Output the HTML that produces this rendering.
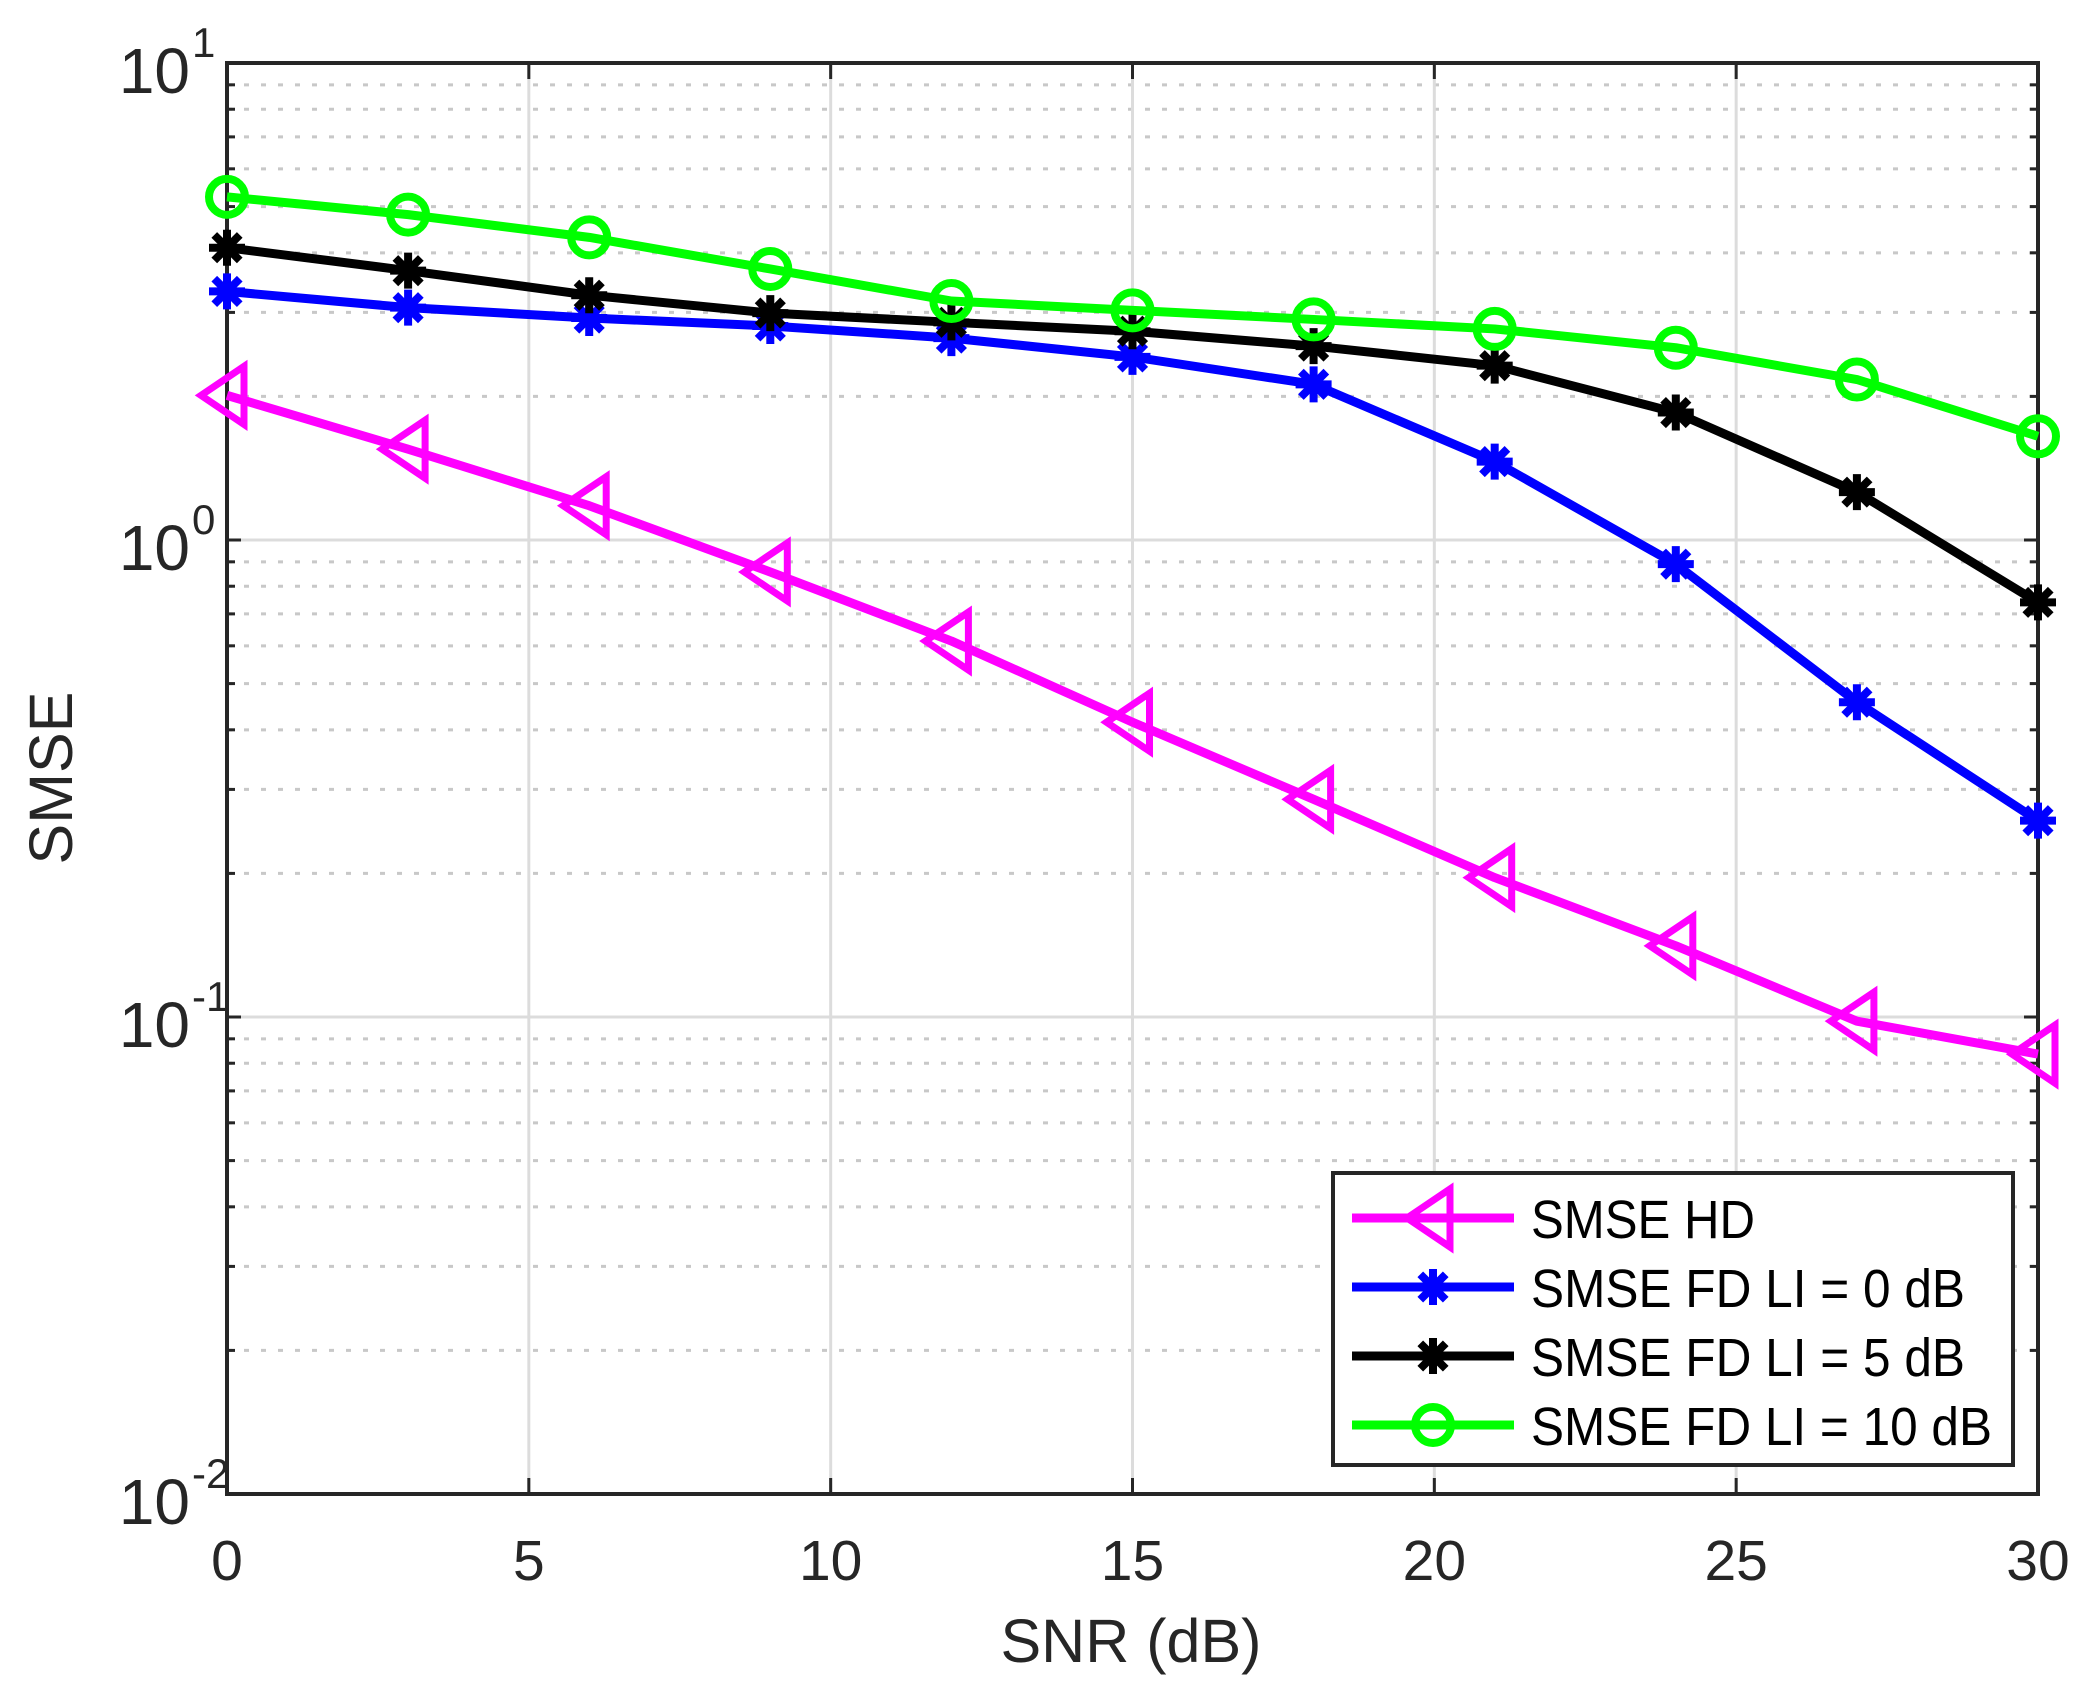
<!DOCTYPE html>
<html><head><meta charset="utf-8"><style>
html,body{margin:0;padding:0;background:#fff;}
svg{display:block;font-family:"Liberation Sans",Arial,sans-serif;}
</style></head><body>
<svg id="chart" width="2082" height="1683" viewBox="0 0 2082 1683" xmlns="http://www.w3.org/2000/svg">
<rect x="0" y="0" width="2082" height="1683" fill="#fff"/>
<g id="grid"></g>
<g id="axes"></g>
<g id="series"></g>
<g id="legend"></g>
</svg>
<script>
const snr = [0,3,6,9,12,15,18,21,24,27,30];
const smseHD = [2.01,1.55,1.18,0.857,0.614,0.415,0.286,0.196,0.141,0.098,0.0836];
const smseFD0 = [3.32,3.07,2.92,2.81,2.65,2.42,2.12,1.46,0.89,0.457,0.258];
const smseFD5 = [4.1,3.67,3.26,2.99,2.86,2.74,2.55,2.32,1.85,1.26,0.74];
const smseFD10 = [5.24,4.81,4.31,3.70,3.17,3.03,2.90,2.77,2.53,2.17,1.65];
const xTicks = [0,5,10,15,20,25,30];
const yDecades = [-2,-1,0,1];
const seriesNames = ["SMSE HD","SMSE FD LI = 0 dB","SMSE FD LI = 5 dB","SMSE FD LI = 10 dB"];

const NS="http://www.w3.org/2000/svg";
const L=227,R=2038,T=63,B=1494;
function xs(v){return L+(v-0)/(30-0)*(R-L);}
function ys(v){return T+(1-Math.log10(v))/3*(B-T);}
function mk(tag,attrs,parent){const e=document.createElementNS(NS,tag);for(const k in attrs)e.setAttribute(k,attrs[k]);parent.appendChild(e);return e;}
const grid=document.getElementById('grid'),axes=document.getElementById('axes'),ser=document.getElementById('series'),leg=document.getElementById('legend');

for(let d=-2;d<1;d++){for(let m=2;m<=9;m++){const y=ys(m*Math.pow(10,d));
 const g=mk('line',{x1:L,x2:R,y1:y,y2:y,stroke:'#c8c8c8','stroke-width':3,'stroke-dasharray':'5 12'},grid);
 
 
 const t1=mk('line',{x1:L,x2:L+8,y1:y,y2:y,stroke:'#262626','stroke-width':3},axes);
 
 
 const t2=mk('line',{x1:R,x2:R-8,y1:y,y2:y,stroke:'#262626','stroke-width':3},axes);
 
 
}}
yDecades.forEach(d=>{const y=ys(Math.pow(10,d));
 if(d>-2&&d<1){const g=mk('line',{x1:L,x2:R,y1:y,y2:y,stroke:'#dcdcdc','stroke-width':3},grid);
 
 }
 const t1=mk('line',{x1:L,x2:L+14,y1:y,y2:y,stroke:'#262626','stroke-width':3},axes);
 
 
 const t2=mk('line',{x1:R,x2:R-14,y1:y,y2:y,stroke:'#262626','stroke-width':3},axes);
 
 
 const tx=mk('text',{x:190,y:y+30,'font-size':64,fill:'#262626','text-anchor':'end'},axes);
 tx.textContent='10';
 
 
 const sp=mk('text',{x:192,y:y-6,'font-size':42,fill:'#262626'},axes);
 sp.textContent=String(d);
 
 
});
xTicks.forEach(v=>{const x=xs(v);
 if(v>0&&v<30){const g=mk('line',{x1:x,x2:x,y1:T,y2:B,stroke:'#dcdcdc','stroke-width':3},grid);
 
 }
 const t1=mk('line',{x1:x,x2:x,y1:B,y2:B-16,stroke:'#262626','stroke-width':3},axes);
 
 
 const t2=mk('line',{x1:x,x2:x,y1:T,y2:T+16,stroke:'#262626','stroke-width':3},axes);
 
 
 const tx=mk('text',{x:x,y:1580,'font-size':57,fill:'#262626','text-anchor':'middle'},axes);
 tx.textContent=String(v);
 
 
});
const box=mk('rect',{x:L,y:T,width:R-L,height:B-T,fill:'none',stroke:'#262626','stroke-width':4},axes);


const xl=mk('text',{x:1131,y:1662,'font-size':61,fill:'#262626','text-anchor':'middle'},axes);
xl.textContent='SNR (dB)';


const yl=mk('text',{x:0,y:0,'font-size':61,fill:'#262626','text-anchor':'middle',transform:'translate(72,778) rotate(-90)'},axes);
yl.textContent='SMSE';



function marker(type,x,y,color,parent){
 let g=mk('g',{},parent);
 if(type==='tri'){mk('polygon',{points:`${x-26},${y} ${x+17},${y-29} ${x+17},${y+29}`,fill:'none',stroke:color,'stroke-width':7},g);}
 else if(type==='circ'){mk('circle',{cx:x,cy:y,r:18,fill:'none',stroke:color,'stroke-width':8},g);}
 else {for(let a=0;a<180;a+=45){const r=a*Math.PI/180,dx=18*Math.cos(r),dy=18*Math.sin(r);
  mk('line',{x1:x-dx,y1:y-dy,x2:x+dx,y2:y+dy,stroke:color,'stroke-width':8},g);}}
 return g;
}
const defs=[[smseHD,'#ff00ff','tri','series-smse-hd'],[smseFD0,'#0000ff','ast','series-fd-li-0'],[smseFD5,'#000000','ast','series-fd-li-5'],[smseFD10,'#00ff00','circ','series-fd-li-10']];
defs.forEach((s,i)=>{
 const g=mk('g',{},ser);
 
 
 const pts=snr.map((v,j)=>xs(v)+','+ys(s[0][j])).join(' ');
 const pl=mk('polyline',{points:pts,fill:'none',stroke:s[1],'stroke-width':9,'stroke-linejoin':'round'},g);
 
 
 snr.forEach((v,j)=>{const m=marker(s[2],xs(v),ys(s[0][j]),s[1],g);
  
  });
});
const lb=mk('rect',{x:1333,y:1173,width:680,height:292,fill:'#fff',stroke:'#262626','stroke-width':4},leg);


const ly=[1218,1287,1356,1425];
const lw=[224,434,434,461];
defs.forEach((s,i)=>{
 const g=mk('g',{},leg);
 
 
 mk('line',{x1:1352,x2:1514,y1:ly[i],y2:ly[i],stroke:s[1],'stroke-width':9},g);
 marker(s[2],1433,ly[i],s[1],g);
 const t=mk('text',{x:1531,y:ly[i]+20,'font-size':54,fill:'#000',textLength:lw[i],lengthAdjust:'spacingAndGlyphs'},g);
 t.textContent=seriesNames[i];
 
 
});
</script>
</body></html>
